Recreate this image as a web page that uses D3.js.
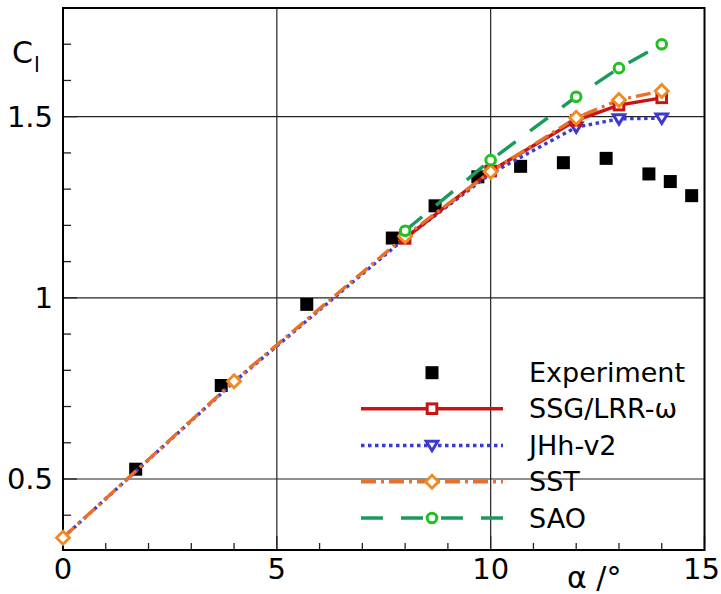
<!DOCTYPE html>
<html><head><meta charset="utf-8">
<script src="https://cdn.jsdelivr.net/npm/d3@7/dist/d3.min.js"></script>
<style>body{margin:0;background:#fff}svg{display:block}text{font-family:"DejaVu Sans",sans-serif;fill:#000}</style>
</head><body>
<svg id="c" width="721" height="594"></svg>
<script>
// ---- data ----
const xTicks = [0, 5, 10, 15];
const xTickLabels = ["0", "5", "10", "15"];
const yTicks = [0.5, 1, 1.5];
const yTickLabels = ["0.5", "1", "1.5"];

const expAlpha = [1.7, 3.7, 5.7, 7.7, 8.7, 9.7, 10.7, 11.7, 12.7, 13.7, 14.2, 14.7];
const expCl    = [0.527, 0.758, 0.982, 1.165, 1.254, 1.334, 1.363, 1.373, 1.385, 1.342, 1.321, 1.282];

const alphaFull = [0, 4, 8, 10, 12, 13, 14];
const sstCl     = [0.338, 0.770, 1.170, 1.348, 1.497, 1.546, 1.571];
const jhhCl     = [0.338, 0.768, 1.165, 1.343, 1.471, 1.494, 1.496];
const jhhMarkerAlpha = [12, 13, 14];

const alphaHigh = [8, 10, 12, 13, 14];
const ssgCl     = [1.164, 1.350, 1.490, 1.532, 1.552];
const saoCl     = [1.185, 1.380, 1.555, 1.634, 1.700];

const legendNames = ["Experiment", "SSG/LRR-ω", "JHh-v2", "SST", "SAO"];

// ---- chart ----
const svg = d3.select("#c");
const L = 63, R = 704.5, T = 8, B = 550;
const x = d3.scaleLinear().domain([0, 15]).range([L, R]);
const y = d3.scaleLinear().domain([0.304, 1.80]).range([B, T]);

// grid
svg.append("g").selectAll("line").data(xTicks.filter(d => d > 0 && d < 15)).join("line")
  .attr("x1", d => x(d)).attr("x2", d => x(d)).attr("y1", T).attr("y2", B)
  .attr("stroke", "#222").attr("stroke-width", 1.2);
svg.append("g").selectAll("line").data(yTicks).join("line")
  .attr("y1", d => y(d)).attr("y2", d => y(d)).attr("x1", L).attr("x2", R)
  .attr("stroke", "#222").attr("stroke-width", 1.2);

// axes ticks
const minorX = d3.range(0, 15.01, 1);
svg.append("g").selectAll("line").data(minorX).join("line")
  .attr("x1", d => x(d)).attr("x2", d => x(d)).attr("y1", B)
  .attr("y2", d => B - (d % 5 === 0 ? 14 : 7)).attr("stroke", "#222").attr("stroke-width", 1.3);
svg.append("g").selectAll("text").data(xTicks).join("text")
  .attr("x", d => d === 15 ? 720 : x(d)).attr("y", 579)
  .attr("text-anchor", d => d === 15 ? "end" : "middle")
  .attr("font-size", 29).text((d, i) => xTickLabels[i]);

const minorY = d3.range(4, 18, 1).map(v => v / 10);
svg.append("g").selectAll("line").data(minorY).join("line")
  .attr("y1", d => y(d)).attr("y2", d => y(d)).attr("x1", L)
  .attr("x2", d => L + ([5, 10, 15].includes(Math.round(d * 10)) ? 14 : 8))
  .attr("stroke", "#222").attr("stroke-width", 1.3);
svg.append("g").selectAll("text").data(yTicks).join("text")
  .attr("x", 53).attr("y", d => y(d) + 10.5).attr("text-anchor", "end")
  .attr("font-size", 29).text((d, i) => yTickLabels[i]);

// frame
svg.append("rect").attr("x", L).attr("y", T).attr("width", R - L).attr("height", B - T)
  .attr("fill", "none").attr("stroke", "#000").attr("stroke-width", 2);

// axis titles
const yl = svg.append("text").attr("x", 12).attr("y", 63).attr("font-size", 30);
yl.append("tspan").text("C");
yl.append("tspan").attr("font-size", 21).attr("dy", 9).attr("dx", 1).text("l");
svg.append("text").attr("x", 567).attr("y", 588).attr("font-size", 30).text("α /°");

// marker helpers
function marker(g, type, cx, cy, color) {
  if (type === "exp") {
    g.append("rect").attr("x", cx - 6.5).attr("y", cy - 6.5).attr("width", 13).attr("height", 13).attr("fill", "#000");
  } else if (type === "square") {
    g.append("rect").attr("x", cx - 4.8).attr("y", cy - 4.8).attr("width", 9.6).attr("height", 9.6)
      .attr("fill", "#fff").attr("stroke", color).attr("stroke-width", 3);
  } else if (type === "diamond") {
    g.append("path").attr("d", `M${cx},${cy - 6.5}L${cx + 6.5},${cy}L${cx},${cy + 6.5}L${cx - 6.5},${cy}Z`)
      .attr("fill", "#fff").attr("stroke", color).attr("stroke-width", 2.8);
  } else if (type === "tri") {
    g.append("path").attr("d", `M${cx - 5.8},${cy - 4.2}L${cx + 5.8},${cy - 4.2}L${cx},${cy + 5.2}Z`)
      .attr("fill", "#fff").attr("stroke", color).attr("stroke-width", 3);
  } else if (type === "circle") {
    g.append("circle").attr("cx", cx).attr("cy", cy).attr("r", 4.8)
      .attr("fill", "#fff").attr("stroke", color).attr("stroke-width", 3);
  }
}

const series = [
  {name: legendNames[2], xs: alphaFull, ys: jhhCl, color: "#3b3bcf", dash: "3.5,3.5", mk: "tri", mkColor: "#3b3bcf", mkX: jhhMarkerAlpha},
  {name: legendNames[1], xs: alphaHigh, ys: ssgCl, color: "#c81414", dash: null, mk: "square", mkColor: "#c81414", mkX: alphaHigh},
  {name: legendNames[3], xs: alphaFull, ys: sstCl, color: "#e8702a", dash: "15,5,3,5", mk: "diamond", mkColor: "#f08a1e", mkX: alphaFull},
  {name: legendNames[4], xs: alphaHigh, ys: saoCl, color: "#1a9a5c", dash: "22,18", mk: "circle", mkColor: "#22c022", mkX: alphaHigh}
];

// experiment squares
const ge = svg.append("g");
expAlpha.forEach((a, i) => marker(ge, "exp", x(a), y(expCl[i])));

const line = d3.line().x(d => x(d[0])).y(d => y(d[1]));
series.forEach(s => {
  const pts = s.xs.map((a, i) => [a, s.ys[i]]);
  svg.append("path").attr("d", line(pts)).attr("fill", "none").attr("stroke", s.color)
    .attr("stroke-width", 3.4).attr("stroke-dasharray", s.dash);
});
series.forEach(s => {
  const g = svg.append("g");
  s.xs.forEach((a, i) => { if (s.mkX.includes(a)) marker(g, s.mk, x(a), y(s.ys[i]), s.mkColor); });
});

// legend
const rows = [372.7, 408.7, 445.5, 481.7, 518];
const lg = svg.append("g");
marker(lg, "exp", 432, rows[0]);
const legOrder = [series[1], series[0], series[2], series[3]];
legOrder.forEach((s, i) => {
  const ry = rows[i + 1];
  lg.append("line").attr("x1", 361).attr("x2", 503).attr("y1", ry).attr("y2", ry)
    .attr("stroke", s.color).attr("stroke-width", 3.4).attr("stroke-dasharray", s.dash);
  marker(lg, s.mk, 432, ry, s.mkColor);
});
legendNames.forEach((n, i) => {
  lg.append("text").attr("x", 529).attr("y", rows[i] + 9.5).attr("font-size", 27).text(n);
});
</script>
</body></html>
